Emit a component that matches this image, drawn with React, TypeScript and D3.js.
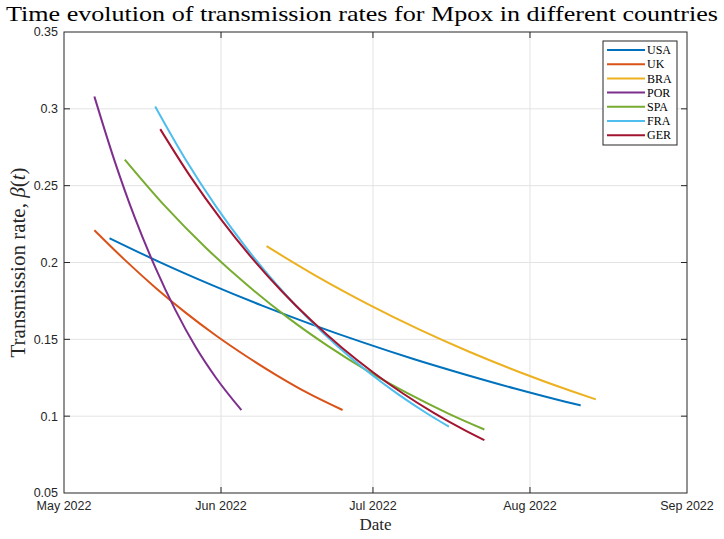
import { useEffect, useRef } from "react";
import * as d3 from "d3";

// countries in legend order
const countries = ["USA", "UK", "BRA", "POR", "SPA", "FRA", "GER"];
const colors = ["#0072BD", "#D95319", "#EDB120", "#7E2F8E", "#77AC30", "#4DBEEE", "#A2142F"];

// [date, beta(t)]
const usa: [string, number][] = [
  ["2022-05-10", 0.2158], ["2022-05-20", 0.2001], ["2022-05-30", 0.1856], ["2022-06-09", 0.1721],
  ["2022-06-19", 0.1596], ["2022-06-29", 0.148], ["2022-07-09", 0.1372], ["2022-07-19", 0.1273],
  ["2022-07-29", 0.118], ["2022-08-08", 0.1094], ["2022-08-11", 0.107],
];
const uk: [string, number][] = [
  ["2022-05-07", 0.221], ["2022-05-13", 0.2017], ["2022-05-19", 0.1838], ["2022-05-25", 0.1674],
  ["2022-05-31", 0.1525], ["2022-06-06", 0.139], ["2022-06-12", 0.1266], ["2022-06-18", 0.1153],
  ["2022-06-25", 0.104],
];
const bra: [string, number][] = [
  ["2022-06-10", 0.2106], ["2022-06-20", 0.1908], ["2022-06-30", 0.1729], ["2022-07-10", 0.1566],
  ["2022-07-20", 0.1419], ["2022-07-30", 0.1286], ["2022-08-09", 0.1165], ["2022-08-14", 0.1109],
];
const por: [string, number][] = [
  ["2022-05-07", 0.308], ["2022-05-11", 0.266], ["2022-05-15", 0.229], ["2022-05-19", 0.197],
  ["2022-05-23", 0.169], ["2022-05-27", 0.145], ["2022-05-31", 0.125], ["2022-06-05", 0.104],
];
const spa: [string, number][] = [
  ["2022-05-13", 0.267], ["2022-05-21", 0.2365], ["2022-05-29", 0.2096], ["2022-06-06", 0.1858],
  ["2022-06-14", 0.1646], ["2022-06-22", 0.1459], ["2022-06-30", 0.1293], ["2022-07-08", 0.1146],
  ["2022-07-16", 0.1015], ["2022-07-23", 0.0913],
];
const fra: [string, number][] = [
  ["2022-05-19", 0.3015], ["2022-05-25", 0.267], ["2022-05-31", 0.2365], ["2022-06-06", 0.2095],
  ["2022-06-12", 0.1855], ["2022-06-18", 0.1643], ["2022-06-24", 0.1455], ["2022-06-30", 0.1289],
  ["2022-07-06", 0.1142], ["2022-07-12", 0.1011], ["2022-07-16", 0.0932],
];
const ger: [string, number][] = [
  ["2022-05-20", 0.2868], ["2022-05-26", 0.2557], ["2022-06-01", 0.228], ["2022-06-07", 0.2033],
  ["2022-06-13", 0.1813], ["2022-06-19", 0.1617], ["2022-06-25", 0.1442], ["2022-07-01", 0.1286],
  ["2022-07-07", 0.1146], ["2022-07-13", 0.1022], ["2022-07-19", 0.0911], ["2022-07-23", 0.0844],
];
const seriesData = [usa, uk, bra, por, spa, fra, ger];

const xTicks = ["2022-05-01", "2022-06-01", "2022-07-01", "2022-08-01", "2022-09-01"];
const yTicks = [0.05, 0.1, 0.15, 0.2, 0.25, 0.3, 0.35];

const W = 724;
const H = 539;

export default function App() {
  const svgRef = useRef<SVGSVGElement>(null);

  useEffect(() => {
    if (!svgRef.current) return;
    const margin = { top: 32, right: 37, bottom: 46, left: 64 };
    const width = W - margin.left - margin.right;
    const height = H - margin.top - margin.bottom;
    const parse = d3.timeParse("%Y-%m-%d");

    const svg = d3.select(svgRef.current);
    svg.selectAll("*").remove();

    const g = svg.append("g").attr("transform", `translate(${margin.left},${margin.top})`);

    const tickDates = xTicks.map((d) => parse(d)!);
    const x = d3.scaleTime().domain([tickDates[0], tickDates[tickDates.length - 1]]).range([0, width]);
    const y = d3.scaleLinear().domain([0.05, 0.35]).range([height, 0]);

    const axisColor = "#262626";
    const tickFont = "'Liberation Sans', Arial, sans-serif";
    const serif = "'Liberation Serif', 'Times New Roman', serif";

    // grid
    g.append("g")
      .selectAll("line")
      .data(tickDates.slice(1, -1))
      .join("line")
      .attr("x1", (d) => x(d))
      .attr("x2", (d) => x(d))
      .attr("y1", 0)
      .attr("y2", height)
      .attr("stroke", "#e3e3e3")
      .attr("stroke-width", 1);
    g.append("g")
      .selectAll("line")
      .data(yTicks.slice(1, -1))
      .join("line")
      .attr("x1", 0)
      .attr("x2", width)
      .attr("y1", (d) => y(d))
      .attr("y2", (d) => y(d))
      .attr("stroke", "#e3e3e3")
      .attr("stroke-width", 1);

    // curves
    const line = d3
      .line<[Date, number]>()
      .x((d) => x(d[0]))
      .y((d) => y(d[1]))
      .curve(d3.curveMonotoneX);

    seriesData.forEach((s, i) => {
      const pts = s.map(([d, v]) => [parse(d)!, v] as [Date, number]);
      g.append("path")
        .datum(pts)
        .attr("d", line)
        .attr("fill", "none")
        .attr("stroke", colors[i])
        .attr("stroke-width", 2);
    });

    // box
    g.append("rect")
      .attr("width", width)
      .attr("height", height)
      .attr("fill", "none")
      .attr("stroke", axisColor)
      .attr("stroke-width", 1);

    // inward ticks on all four sides
    const tl = 6;
    tickDates.slice(1, -1).forEach((d) => {
      g.append("line").attr("x1", x(d)).attr("x2", x(d)).attr("y1", height).attr("y2", height - tl).attr("stroke", axisColor);
      g.append("line").attr("x1", x(d)).attr("x2", x(d)).attr("y1", 0).attr("y2", tl).attr("stroke", axisColor);
    });
    yTicks.slice(1, -1).forEach((v) => {
      g.append("line").attr("x1", 0).attr("x2", tl).attr("y1", y(v)).attr("y2", y(v)).attr("stroke", axisColor);
      g.append("line").attr("x1", width).attr("x2", width - tl).attr("y1", y(v)).attr("y2", y(v)).attr("stroke", axisColor);
    });

    // tick labels
    const fmt = d3.timeFormat("%b %Y");
    g.append("g")
      .selectAll("text")
      .data(tickDates)
      .join("text")
      .attr("x", (d) => x(d))
      .attr("y", height + 17)
      .attr("text-anchor", "middle")
      .style("font-family", tickFont)
      .style("font-size", "12.5px")
      .attr("fill", axisColor)
      .text((d) => fmt(d));
    g.append("g")
      .selectAll("text")
      .data(yTicks)
      .join("text")
      .attr("x", -6)
      .attr("y", (d) => y(d))
      .attr("dy", "0.35em")
      .attr("text-anchor", "end")
      .style("font-family", tickFont)
      .style("font-size", "12.5px")
      .attr("fill", axisColor)
      .text((d) => String(d));

    // title and axis labels
    svg
      .append("text")
      .attr("x", W / 2)
      .attr("y", 21)
      .attr("text-anchor", "middle")
      .attr("textLength", 712)
      .attr("lengthAdjust", "spacingAndGlyphs")
      .style("font-family", serif)
      .style("font-size", "21px")
      .attr("fill", "#000")
      .text("Time evolution of transmission rates for Mpox in different countries");

    svg
      .append("text")
      .attr("x", margin.left + width / 2)
      .attr("y", H - 9)
      .attr("text-anchor", "middle")
      .style("font-family", serif)
      .style("font-size", "17px")
      .attr("fill", "#262626")
      .text("Date");

    const yl = svg
      .append("text")
      .attr("transform", `translate(25,${margin.top + height / 2}) rotate(-90)`)
      .attr("text-anchor", "middle")
      .style("font-family", serif)
      .style("font-size", "21px")
      .attr("fill", "#262626");
    yl.append("tspan").text("Transmission rate, ");
    yl.append("tspan").style("font-style", "italic").text("β");
    yl.append("tspan").text("(");
    yl.append("tspan").style("font-style", "italic").text("t");
    yl.append("tspan").text(")");

    // legend
    const lg = svg.append("g").attr("transform", "translate(603,41)");
    lg.append("rect")
      .attr("width", 74)
      .attr("height", 104)
      .attr("fill", "#fff")
      .attr("stroke", axisColor)
      .attr("stroke-width", 1);
    countries.forEach((c, i) => {
      const yy = 9 + i * 14.2;
      lg.append("line")
        .attr("x1", 4)
        .attr("x2", 42)
        .attr("y1", yy)
        .attr("y2", yy)
        .attr("stroke", colors[i])
        .attr("stroke-width", 2);
      lg.append("text")
        .attr("x", 44)
        .attr("y", yy)
        .attr("dy", "0.35em")
        .style("font-family", serif)
        .style("font-size", "12px")
        .attr("fill", "#000")
        .text(c);
    });
  }, []);

  return (
    <svg
      ref={svgRef}
      width={W}
      height={H}
      style={{ position: "absolute", left: 0, top: 0, background: "#fff" }}
    />
  );
}
